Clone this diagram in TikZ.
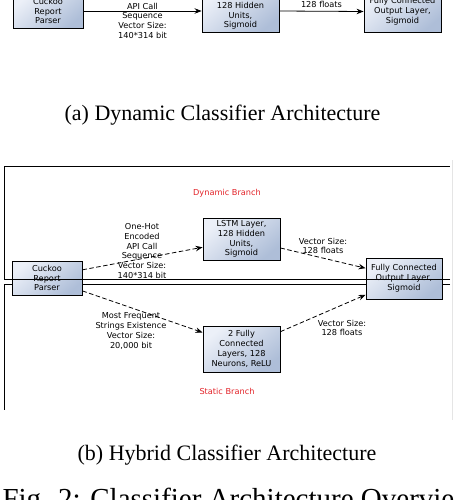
\documentclass[tikz,border=0pt]{standalone}
\usepackage{fontspec}
\setmainfont{Liberation Serif}
\newfontfamily\diafont{DejaVu Sans}
\usetikzlibrary{arrows.meta}
\definecolor{boxlight}{RGB}{236,240,248}
\definecolor{boxdark}{RGB}{174,190,216}
\definecolor{branchred}{RGB}{226,34,40}

\begin{document}
\begin{tikzpicture}[x=1pt,y=-1pt,
  layer/.style={draw,line width=0.9pt,inner sep=0pt,align=center,
    font=\diafont\fontsize{8.2}{9.8}\selectfont,
    top color=boxlight,bottom color=boxdark,shading angle=40},
  info/.style={align=center,font=\diafont\fontsize{8.2}{9.8}\selectfont},
  branch/.style={text=branchred,font=\diafont\fontsize{8.2}{9.8}\selectfont},
  flow/.style={line width=0.8pt,-{Stealth[length=7pt,width=5.5pt]}},
  dflow/.style={flow,dash pattern=on 4.5pt off 2.5pt},
  frame/.style={line width=0.8pt},
  caption/.style={font=\fontsize{22}{25}\selectfont}]
\useasboundingbox (0,0) rectangle (454,500);
\clip (0,0) rectangle (454,500);

% (a) Dynamic classifier
\node[layer,minimum width=70pt,minimum height=34pt] (parserA) at (48,11) {Cuckoo\\Report\\Parser};
\node[layer,minimum width=77pt,minimum height=42pt] (lstmA) at (240.5,11) {LSTM Layer,\\128 Hidden\\Units,\\Sigmoid};
\node[layer,minimum width=77pt,minimum height=41pt] (outA) at (402.5,11.5) {Fully Connected\\Output Layer,\\Sigmoid};
\draw[flow] (parserA.east) -- (lstmA.west) node[info,midway] (seqA) {One-Hot\\Encoded\\API Call\\Sequence\\Vector Size:\\140*314 bit};
\draw[flow] (lstmA.east) -- (outA.west) node[info,midway,above] (vecA) {Vector Size:\\128 floats};
\node[caption] (capA) at (222.5,115) {(a) Dynamic Classifier Architecture};

% (b) Hybrid classifier
\draw[frame] (450,284) -- (4,284) -- (4,410);
\draw[gray!20] (452,160) -- (452,420);
\node[branch] (dynB) at (227,193) {Dynamic Branch};
\node[branch] (staB) at (227,391) {Static Branch};

\node[layer,minimum width=70pt,minimum height=34pt] (parserB) at (47,278) {Cuckoo\\Report\\Parser};
\node[layer,minimum width=77pt,minimum height=42pt] (lstmB) at (241.5,239) {LSTM Layer,\\128 Hidden\\Units,\\Sigmoid};
\node[layer,minimum width=76pt,minimum height=41pt] (outB) at (404,278.5) {Fully Connected\\Output Layer,\\Sigmoid};
\node[layer,minimum width=77pt,minimum height=46pt] (fcB) at (241.5,349) {2 Fully\\Connected\\Layers, 128\\Neurons, ReLU};

\draw[dflow] (parserB.13) -- (lstmB.192);
\draw[dflow] (parserB.-20) -- (fcB.157);
\draw[dflow] (lstmB.-13) -- (outB.165);
\draw[dflow] (fcB.24) -- (outB.203);

\node[info] (seqB) at (142,251) {One-Hot\\Encoded\\API Call\\Sequence\\Vector Size:\\140*314 bit};
\node[info] (strB) at (131,331) {Most Frequent\\Strings Existence\\Vector Size:\\20,000 bit};
\node[info] (vecB1) at (323,246) {Vector Size:\\128 floats};
\node[info] (vecB2) at (342,328) {Vector Size:\\128 floats};

\draw[frame] (450,279) -- (4,279) -- (4,166) -- (450,166);

\node[caption] (capB) at (227,455) {(b) Hybrid Classifier Architecture};
\node[anchor=base west,font=\fontsize{29}{33}\selectfont] (figcap) at (-1,508) {Fig. 2: Classifier Architecture Overview};
\end{tikzpicture}
\end{document}
